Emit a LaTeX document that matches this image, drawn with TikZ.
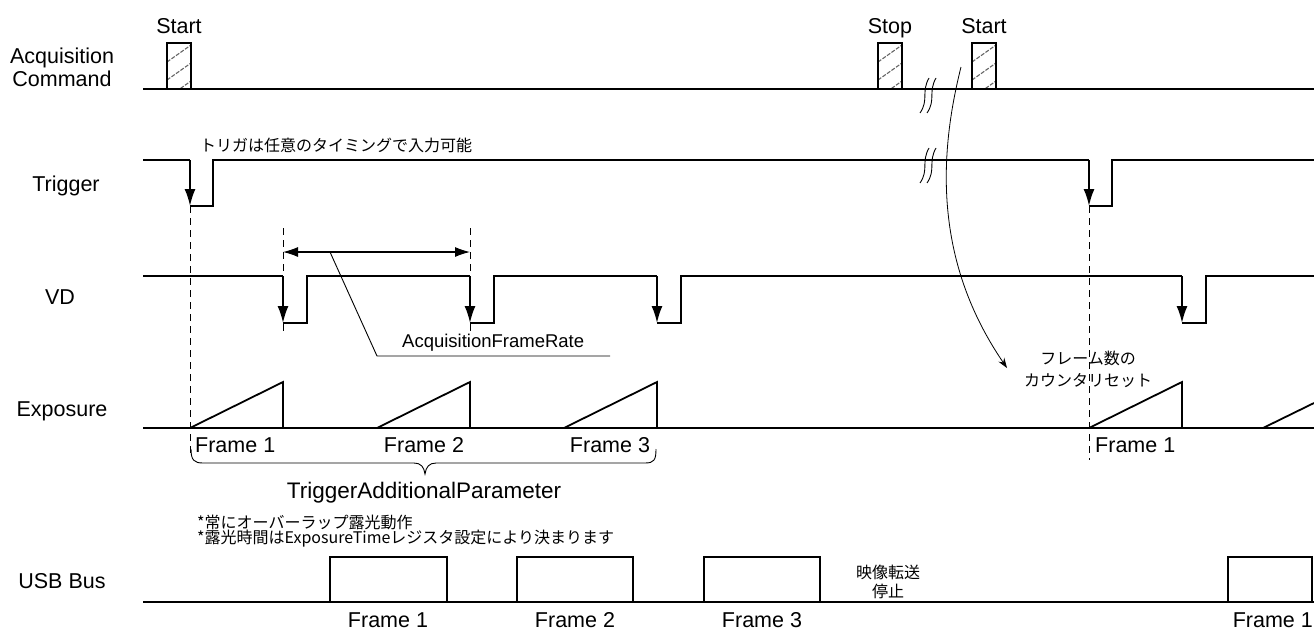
\documentclass[tikz,border=0pt]{standalone}
\usepackage{fontspec}
\setmainfont{Liberation Sans}
\newfontfamily\jp{Noto Sans CJK JP}
\usetikzlibrary{arrows.meta}
\tikzset{
  sig/.style={line width=1.8pt, line join=miter},
  thinln/.style={line width=0.9pt},
  dashln/.style={line width=0.9pt, dash pattern=on 7pt off 5pt},
  hatchln/.style={line width=1.1pt, black!60, dash pattern=on 4pt off 1.5pt},
  dnarrow/.style={-{Latex[length=17pt,width=11pt]}},
  lbl/.style={font=\fontsize{21.5}{24}\selectfont, inner sep=0pt},
  smalllbl/.style={font=\fontsize{18.5}{20}\selectfont, inner sep=0pt},
  biglbl/.style={font=\fontsize{22.5}{24}\selectfont, inner sep=0pt},
  jpt/.style={font=\jp\fontsize{16}{16}\selectfont, inner sep=0pt},
}
\begin{document}
\begin{tikzpicture}[x=1pt,y=-1pt]
\useasboundingbox (0,0) rectangle (1314,630);
\fill[white] (0,0) rectangle (1314,630);

% ---------- Acquisition Command ----------
\draw[sig] (143,89) -- (1314,89);
\foreach \x in {167,878,972}{
  \begin{scope}
    \clip (\x,43) rectangle (\x+24,89);
    \foreach \k in {44,62,80,98}{
      \draw[hatchln] (\x,\k) -- ++(24,-17);
    }
  \end{scope}
  \draw[sig] (\x,89) rectangle (\x+24,43);
}
\foreach \dx in {0,7}{
  \draw[thinln] (929+\dx,78) .. controls (921+\dx,92) and (929+\dx,100) .. (920+\dx,113);
}
\node[lbl, anchor=base] (tstart1) at (179,33) {Start};
\node[lbl, anchor=base] (tstop) at (890,33) {Stop};
\node[lbl, anchor=base] (tstart2) at (984,33) {Start};
\node[lbl, anchor=base] (lacq) at (62,63) {Acquisition};
\node[lbl, anchor=base] (lcmd) at (62,86) {Command};

% ---------- Trigger ----------
\draw[sig] (143,160) -- (190,160);
\draw[sig, dnarrow] (190,160) -- (190,206);
\draw[sig] (190,206) -- (213,206) -- (213,160) -- (1089,160);
\draw[sig, dnarrow] (1089,160) -- (1089,206);
\draw[sig] (1089,206) -- (1112,206) -- (1112,160) -- (1314,160);
\foreach \dx in {0,7}{
  \draw[thinln] (929+\dx,148) .. controls (921+\dx,162) and (929+\dx,170) .. (920+\dx,183);
}
\node[lbl, anchor=base] (ltrg) at (66,191) {Trigger};
\node[jpt, anchor=base west] (ttrg) at (200,151) {トリガは任意のタイミングで入力可能};

% ---------- VD ----------
\draw[sig] (143,276) -- (283,276);
\draw[sig, dnarrow] (283,276) -- (283,323);
\draw[sig] (283,323) -- (307,323) -- (307,276) -- (470,276);
\draw[sig, dnarrow] (470,276) -- (470,323);
\draw[sig] (470,323) -- (494,323) -- (494,276) -- (657,276);
\draw[sig, dnarrow] (657,276) -- (657,323);
\draw[sig] (657,323) -- (681,323) -- (681,276) -- (1182,276);
\draw[sig, dnarrow] (1182,276) -- (1182,323);
\draw[sig] (1182,323) -- (1206,323) -- (1206,276) -- (1314,276);
\node[lbl, anchor=base] (lvd) at (60,304) {VD};

\draw[dashln] (283,228) -- (283,335);
\draw[dashln] (470,228) -- (470,335);
\coordinate (afrL) at (283,252);
\coordinate (afrR) at (470,252);
\draw[line width=1.1pt, {Latex[length=15pt,width=10pt]}-{Latex[length=15pt,width=10pt]}] (afrL) -- (afrR);
\draw[thinln] (330,252) -- (377,356) -- (610,356);
\node[smalllbl, anchor=base west] (tafr) at (402,347) {AcquisitionFrameRate};

% ---------- dashed trigger references ----------
\draw[dashln] (190,206) -- (190,457);
\draw[dashln] (1089,206) -- (1089,460);

% ---------- Exposure ----------
\draw[sig] (143,428) -- (1314,428);
\foreach \x in {190,377,564,1089}{
  \draw[sig] (\x,428) -- (\x+93,382) -- (\x+93,428);
}
\draw[sig] (1263,428) -- (1314,403);
\node[lbl, anchor=base] (lexp) at (62,416) {Exposure};
\node[lbl, anchor=base west] (ef1) at (195,452) {Frame 1};
\node[lbl, anchor=base] (ef2) at (424,452) {Frame 2};
\node[lbl, anchor=base] (ef3) at (610,452) {Frame 3};
\node[lbl, anchor=base west] (ef1b) at (1095,452) {Frame 1};

% brace
\draw[thinln] (191,449) .. controls (191,460) and (194,463) .. (203,463) -- (414,463)
  .. controls (421,463) and (424,467) .. (425,474)
  .. controls (426,467) and (429,463) .. (436,463) -- (645,463)
  .. controls (654,463) and (656,460) .. (656,449);
\node[biglbl, anchor=base] (ttap) at (424,498) {TriggerAdditionalParameter};

% notes
\node[jpt, anchor=base west] (note1) at (197,528) {*常にオーバーラップ露光動作};
\node[jpt, anchor=base west] (note2) at (197,543) {*露光時間はExposureTimeレジスタ設定により決まります};

% ---------- counter reset ----------
\coordinate (cstart) at (961,67);
\coordinate (cend) at (1007,368);
\draw[line width=0.8pt, -{Stealth[length=10pt,width=7pt]}] (cstart) .. controls (935,170) and (940,270) .. (cend);
\node[jpt, anchor=base] (tcnt1) at (1088,364) {フレーム数の};
\node[jpt, anchor=base] (tcnt2) at (1088,386) {カウンタリセット};

% ---------- USB Bus ----------
\draw[sig] (143,602) -- (1314,602);
\foreach \a/\b in {330/447,517/633,704/820,1228/1312}{
  \draw[sig] (\a,602) -- (\a,557) -- (\b,557) -- (\b,602);
}
\node[lbl, anchor=base] (lusb) at (62,588) {USB Bus};
\node[lbl, anchor=base] (uf1) at (388,627) {Frame 1};
\node[lbl, anchor=base] (uf2) at (575,627) {Frame 2};
\node[lbl, anchor=base] (uf3) at (762,627) {Frame 3};
\node[lbl, anchor=base east] (uf1b) at (1313,627) {Frame 1};
\node[jpt, anchor=base] (tstop1) at (888,578) {映像転送};
\node[jpt, anchor=base] (tstop2) at (888,597) {停止};
\end{tikzpicture}
\end{document}
